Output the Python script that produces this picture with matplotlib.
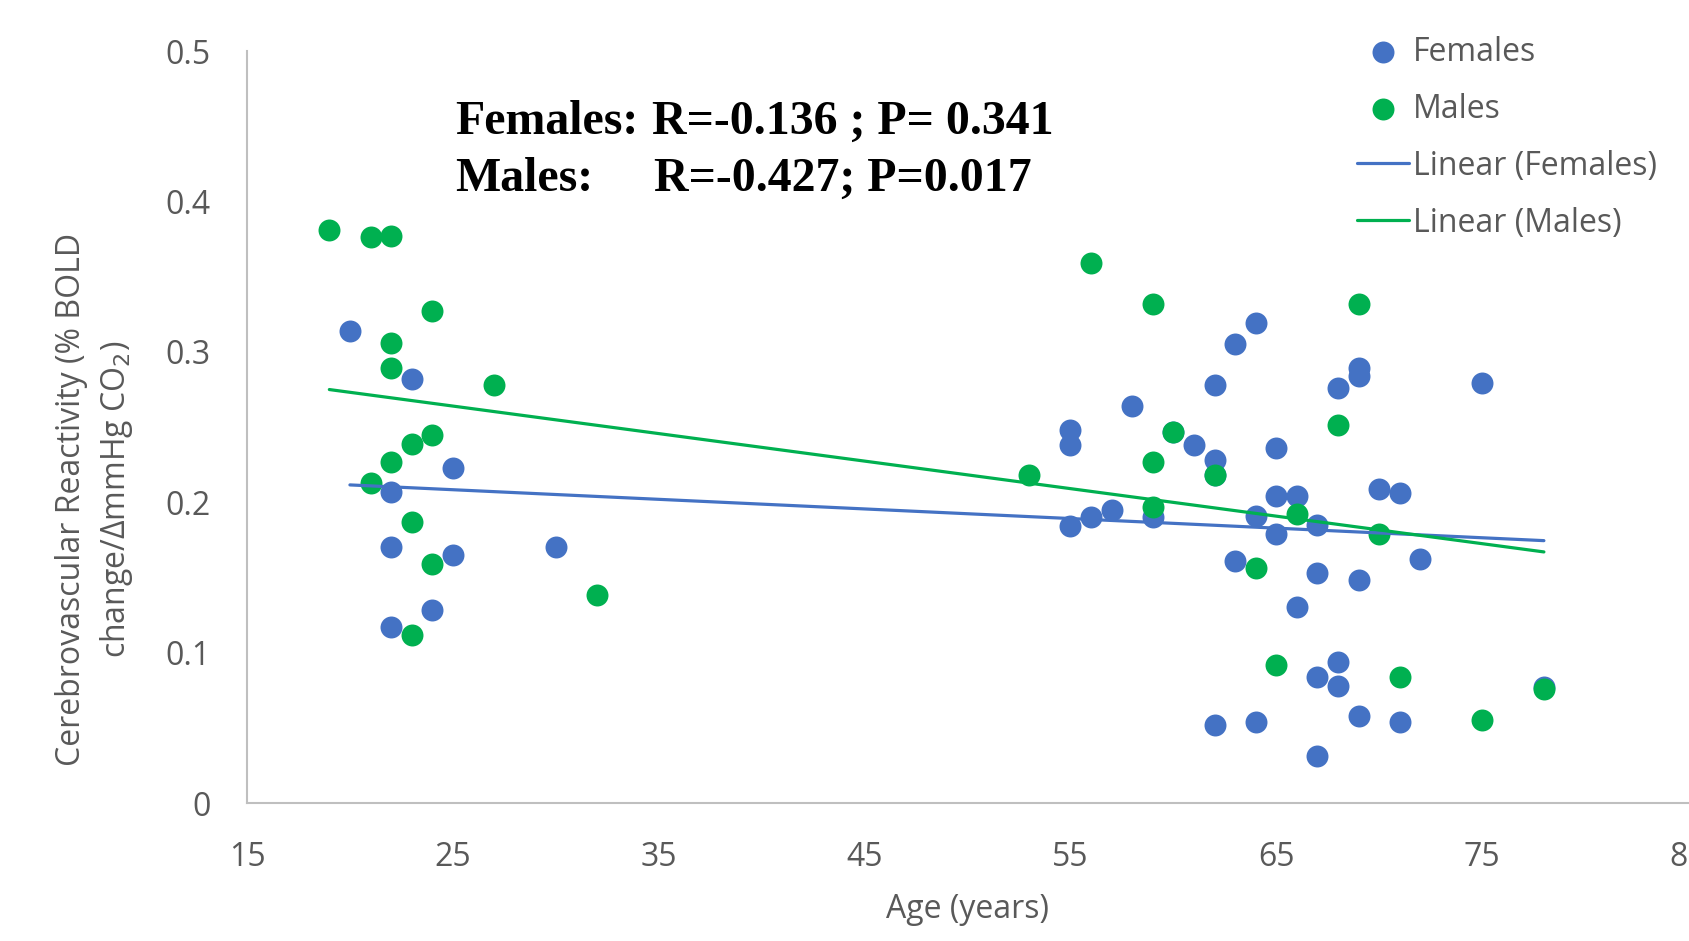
import numpy as np
import matplotlib
matplotlib.use("Agg")
import matplotlib.pyplot as plt

# ages and CVR values
female_age = [20, 23, 25, 22, 22, 25, 30, 24, 22,
              55, 55, 55, 56, 57, 58, 59, 60, 61,
              62, 62, 62, 62, 63, 63, 64, 64, 64,
              65, 65, 65, 66, 66, 67, 67, 67, 67,
              68, 68, 68, 69, 69, 69, 69, 70, 71, 71, 72, 75, 78]
female_cvr = [0.314, 0.282, 0.223, 0.207, 0.170, 0.165, 0.170, 0.128, 0.117,
              0.248, 0.238, 0.184, 0.190, 0.195, 0.264, 0.190, 0.247, 0.238,
              0.278, 0.228, 0.218, 0.052, 0.305, 0.161, 0.319, 0.191, 0.054,
              0.236, 0.204, 0.179, 0.204, 0.130, 0.185, 0.153, 0.084, 0.031,
              0.276, 0.094, 0.078, 0.289, 0.284, 0.148, 0.058, 0.209, 0.206, 0.054, 0.162, 0.279, 0.077]

male_age = [19, 21, 22, 24, 22, 22, 27, 24, 23, 22, 21, 23, 24, 32, 23,
            53, 56, 59, 60, 59, 59, 62, 64, 65, 66, 68, 69, 70, 71, 75, 78]
male_cvr = [0.381, 0.376, 0.377, 0.327, 0.306, 0.289, 0.278, 0.245, 0.239, 0.227, 0.213, 0.187, 0.159, 0.138, 0.112,
            0.218, 0.359, 0.332, 0.247, 0.227, 0.197, 0.218, 0.156, 0.092, 0.192, 0.251, 0.332, 0.179, 0.084, 0.055, 0.076]

x_ticks = [15, 25, 35, 45, 55, 65, 75, 85]
y_ticks = [0, 0.1, 0.2, 0.3, 0.4, 0.5]
y_tick_labels = ["0", "0.1", "0.2", "0.3", "0.4", "0.5"]

blue = "#4472C4"
green = "#00B050"
grey = "#595959"

plt.rcParams["font.family"] = ["Open Sans", "DejaVu Sans"]

fig = plt.figure(figsize=(16.9, 9.41), dpi=100)
ax = fig.add_axes([247 / 1690, 1 - 803 / 941, (1688 - 247) / 1690, (803 - 51) / 941])

ax.scatter(female_age, female_cvr, s=250, color=blue, label="Females", zorder=3, linewidths=0)
ax.scatter(male_age, male_cvr, s=250, color=green, label="Males", zorder=4, linewidths=0)

# linear trendlines
for ages, vals, col, name in [(female_age, female_cvr, blue, "Linear (Females)"),
                              (male_age, male_cvr, green, "Linear (Males)")]:
    k, b = np.polyfit(ages, vals, 1)
    xs = np.array([min(ages), max(ages)])
    ax.plot(xs, k * xs + b, color=col, lw=2.3, label=name, zorder=5, solid_capstyle="round")

ax.set_xlim(15, 85)
ax.set_ylim(0, 0.5)
ax.set_xticks(x_ticks)
ax.set_yticks(y_ticks)
ax.set_yticklabels(y_tick_labels)
ax.tick_params(length=0, labelsize=23, labelcolor=grey)
ax.tick_params(axis="y", pad=26)
ax.tick_params(axis="x", pad=27)
for s in ["top", "right"]:
    ax.spines[s].set_visible(False)
for s in ["left", "bottom"]:
    ax.spines[s].set_color("#BFBFBF")
    ax.spines[s].set_linewidth(1.5)

fig.text(968 / 1690, 1 - 909 / 941, "Age (years)", ha="center", va="center", fontsize=23, color=grey)
fig.text(95 / 1690, 1 - 499 / 941, "Cerebrovascular Reactivity (% BOLD\nchange/ΔmmHg CO$_2$)",
         ha="center", va="center", rotation=90, fontsize=23, color=grey, linespacing=1.35)

serif = dict(family="Liberation Serif", fontweight="bold", fontsize=34.5, va="center")
fig.text(455 / 1690, 1 - 122 / 941, "Females:", **serif)
fig.text(652 / 1690, 1 - 122 / 941, "R=-0.136 ; P= 0.341", **serif)
fig.text(455 / 1690, 1 - 179 / 941, "Males:", **serif)
fig.text(654 / 1690, 1 - 179 / 941, "R=-0.427; P=0.017", **serif)

leg = ax.legend(loc="upper left", bbox_to_anchor=(1328 / 1690, 1 - 7 / 941),
                bbox_transform=fig.transFigure, frameon=False, fontsize=23,
                labelspacing=0.75, handlelength=1.65, handletextpad=0.12, markerscale=1.0)
for t in leg.get_texts():
    t.set_color(grey)

fig.savefig("out.png", dpi=100)
